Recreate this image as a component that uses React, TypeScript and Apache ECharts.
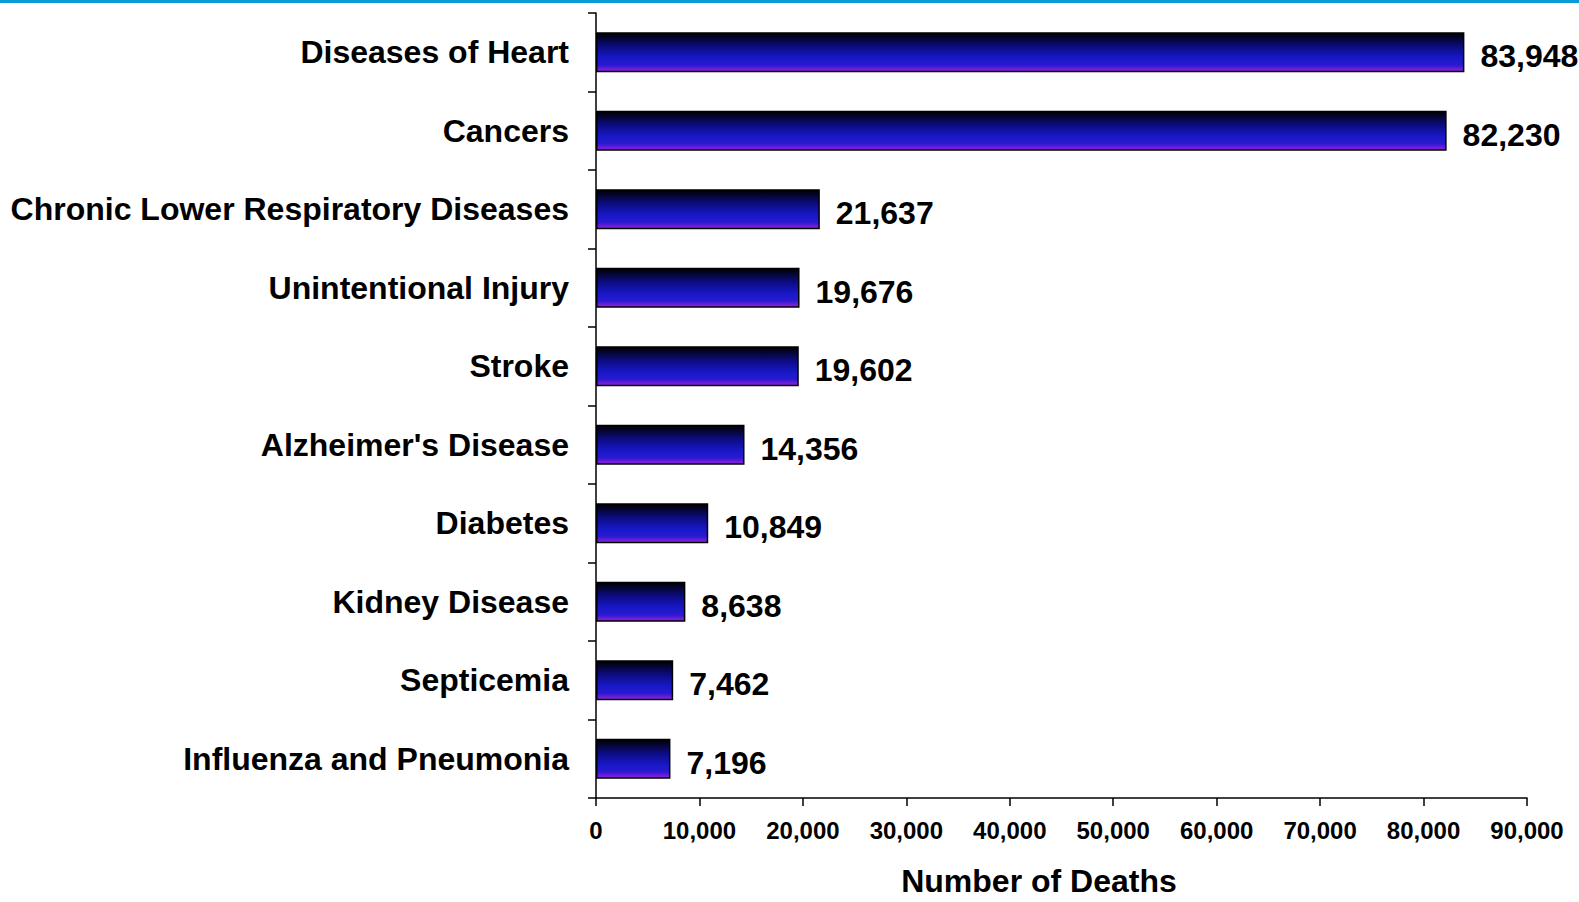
import React, { useEffect, useRef } from "react";
import * as echarts from "echarts";

const categories = [
  "Diseases of Heart",
  "Cancers",
  "Chronic Lower Respiratory Diseases",
  "Unintentional Injury",
  "Stroke",
  "Alzheimer's Disease",
  "Diabetes",
  "Kidney Disease",
  "Septicemia",
  "Influenza and Pneumonia",
];
const deaths = [83948, 82230, 21637, 19676, 19602, 14356, 10849, 8638, 7462, 7196];
const axisTitle = "Number of Deaths";

const FONT = "'Liberation Sans', Arial, sans-serif";

export default function App() {
  const ref = useRef<HTMLDivElement>(null);
  useEffect(() => {
    if (!ref.current) return;
    const chart = echarts.init(ref.current, null, { renderer: "svg" });
    const fmt = (v: number) => v.toLocaleString("en-US");
    chart.setOption({
      animation: false,
      backgroundColor: "#ffffff",
      grid: { left: 596, right: 52, top: 13, bottom: 104, containLabel: false },
      graphic: [
        {
          type: "rect",
          left: 0,
          top: 0,
          shape: { x: 0, y: 0, width: 1579, height: 3 },
          style: { fill: "#0a9ad8" },
          silent: true,
        },
        {
          type: "text",
          x: 1039,
          y: 881,
          style: {
            text: axisTitle,
            fontFamily: FONT,
            fontWeight: "bold",
            fontSize: 32,
            fill: "#000",
            align: "center",
            verticalAlign: "middle",
          },
        },
      ],
      xAxis: {
        type: "value",
        min: 0,
        max: 90000,
        interval: 10000,
        splitLine: { show: false },
        axisLine: { show: true, lineStyle: { color: "#000", width: 1.5 } },
        axisTick: { show: true, length: 8, lineStyle: { color: "#000", width: 1.5 } },
        axisLabel: {
          color: "#000",
          fontFamily: FONT,
          fontWeight: "bold",
          fontSize: 24,
          margin: 20,
          formatter: (v: number) => fmt(v),
        },
      },
      yAxis: {
        type: "category",
        data: categories,
        inverse: true,
        boundaryGap: true,
        axisLine: { show: true, lineStyle: { color: "#000", width: 1.5 } },
        axisTick: { show: true, length: 8, alignWithLabel: false, lineStyle: { color: "#000", width: 1.5 } },
        axisLabel: {
          color: "#000",
          fontFamily: FONT,
          fontWeight: "bold",
          fontSize: 32,
          margin: 27,
        },
      },
      series: [
        {
          type: "bar",
          data: deaths,
          barWidth: 40,
          itemStyle: {
            borderColor: "#000",
            borderWidth: 1.5,
            color: new echarts.graphic.LinearGradient(0, 0, 0, 1, [
              { offset: 0, color: "#000000" },
              { offset: 0.35, color: "#0c0c80" },
              { offset: 0.65, color: "#1818c8" },
              { offset: 0.84, color: "#2a1ad0" },
              { offset: 1, color: "#9a20e0" },
            ]),
          },
          label: {
            show: true,
            position: "right",
            distance: 16,
            offset: [0, 4],
            color: "#000",
            fontFamily: FONT,
            fontWeight: "bold",
            fontSize: 32,
            formatter: (p: any) => fmt(p.value),
          },
        },
      ],
    });
    return () => chart.dispose();
  }, []);
  return (
    <div
      ref={ref}
      style={{ position: "absolute", left: 0, top: 0, width: 1579, height: 902 }}
    />
  );
}
